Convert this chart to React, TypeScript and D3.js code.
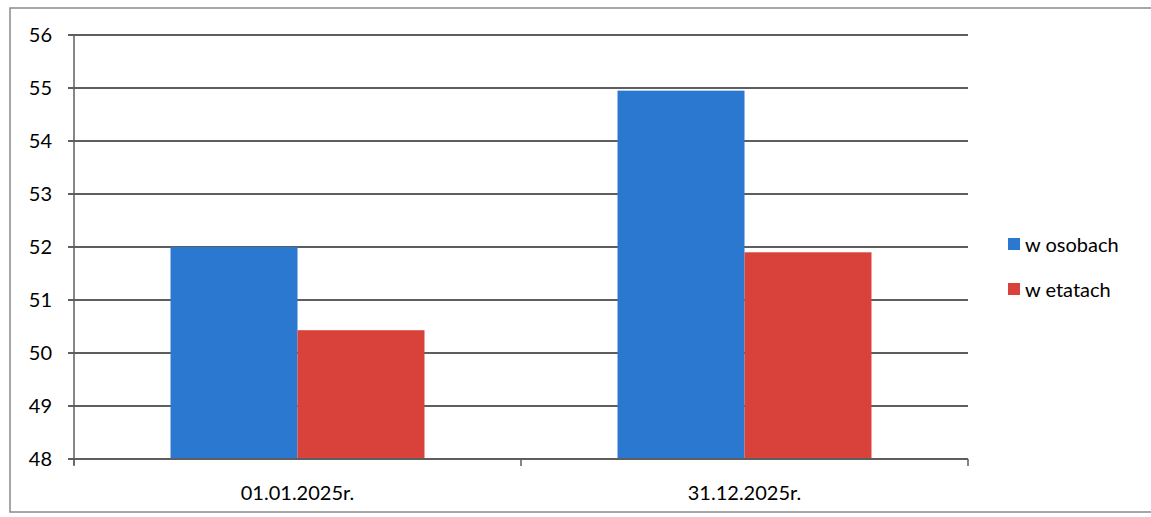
import React from 'react';
import * as d3 from 'd3';

const categories = ['01.01.2025r.', '31.12.2025r.'];
const seriesNames = ['w osobach', 'w etatach'];
const seriesColors = ['#2b78d0', '#d9423a'];
const osobyValues = [52, 54.95];
const etatyValues = [50.43, 51.9];
const yTicks = [48, 49, 50, 51, 52, 53, 54, 55, 56];

const W = 1151;
const H = 517;
const FONT = 'Lato, "Open Sans", sans-serif';

const App: React.FC = () => {
  const left = 74;
  const right = 968;
  const top = 35;
  const bottom = 459;

  const x = d3.scaleBand<string>().domain(categories).range([left, right]);
  const inner = d3
    .scaleBand<string>()
    .domain(seriesNames)
    .range([0, x.bandwidth()])
    .paddingOuter(0.76);
  const y = d3.scaleLinear().domain([48, 56]).range([bottom, top]);

  const series = [osobyValues, etatyValues];

  return (
    <svg
      width={W}
      height={H}
      style={{ position: 'absolute', left: 0, top: 0, background: '#fff' }}
      fontFamily={FONT}
    >
      <rect x={10} y={8} width={1160} height={504} fill="#fff" stroke="#8a8a8a" strokeWidth={1.5} />

      {yTicks.map((t) => (
        <g key={t}>
          <line x1={left - 6} x2={right} y1={y(t)} y2={y(t)} stroke="#5e5e5e" strokeWidth={1.8} />
          <text x={52} y={y(t)} dy="0.35em" textAnchor="end" fontSize={20} fill="#000">
            {t}
          </text>
        </g>
      ))}

      {categories.map((c, ci) =>
        series.map((vals, si) => (
          <rect
            key={c + si}
            x={(x(c) ?? 0) + (inner(seriesNames[si]) ?? 0)}
            y={y(vals[ci])}
            width={inner.bandwidth()}
            height={y(48) - y(vals[ci])}
            fill={seriesColors[si]}
          />
        ))
      )}

      <line x1={left} x2={left} y1={top} y2={bottom + 6} stroke="#5e5e5e" strokeWidth={1.5} />
      <line x1={left} x2={right} y1={bottom} y2={bottom} stroke="#5e5e5e" strokeWidth={1.8} />
      {[left, ...categories.map((c) => (x(c) ?? 0) + x.bandwidth())].map((px, i) => (
        <line key={i} x1={px} x2={px} y1={bottom} y2={bottom + 7} stroke="#5e5e5e" strokeWidth={1.5} />
      ))}

      {categories.map((c) => (
        <text
          key={c}
          x={(x(c) ?? 0) + x.bandwidth() / 2}
          y={500}
          textAnchor="middle"
          fontSize={20}
          fill="#000"
        >
          {c}
        </text>
      ))}

      {seriesNames.map((n, i) => (
        <g key={n} transform={`translate(1008,${245 + i * 45})`}>
          <rect x={0} y={-7} width={12} height={12} fill={seriesColors[i]} />
          <text x={17} y={0} dy="0.35em" fontSize={20} fill="#000">
            {n}
          </text>
        </g>
      ))}
    </svg>
  );
};

export default App;
